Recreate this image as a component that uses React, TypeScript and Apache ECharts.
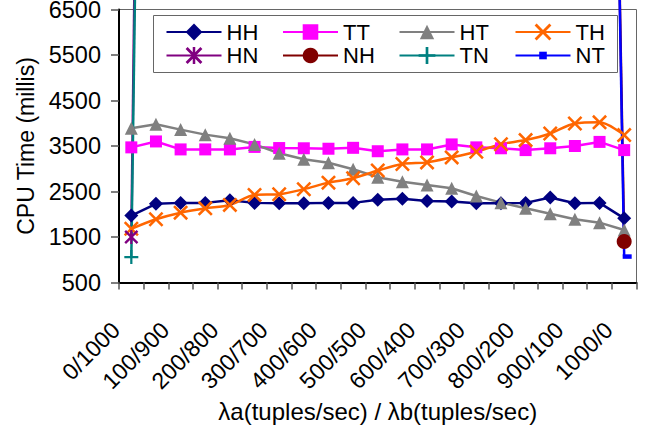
import React, { useEffect, useRef } from 'react';
import * as echarts from 'echarts';

const categories = [
  '0/1000', '50/950', '100/900', '150/850', '200/800', '250/750', '300/700',
  '350/650', '400/600', '450/550', '500/500', '550/450', '600/400', '650/350',
  '700/300', '750/250', '800/200', '850/150', '900/100', '950/50', '1000/0',
];

const HH = [1970, 2230, 2250, 2250, 2310, 2250, 2240, 2240, 2250, 2250, 2320, 2340, 2290, 2280, 2240, 2240, 2250, 2370, 2240, 2250, 1910];
const TT = [3470, 3600, 3425, 3425, 3425, 3480, 3455, 3450, 3440, 3460, 3385, 3425, 3425, 3535, 3470, 3450, 3410, 3450, 3500, 3590, 3410];
const HT = [3890, 3980, 3860, 3750, 3670, 3535, 3340, 3210, 3130, 2990, 2815, 2715, 2645, 2570, 2400, 2255, 2130, 2010, 1890, 1815, 1655];
const TH = [1680, 1890, 2035, 2130, 2205, 2425, 2440, 2550, 2695, 2790, 2960, 3105, 3140, 3250, 3375, 3540, 3630, 3775, 3995, 4020, 3740];
const HN = [1500, 45000];
const NH = [null, null, null, null, null, null, null, null, null, null, null, null, null, null, null, null, null, null, null, 31500, 1400];
const TN = [1060, 40000];
const NT = [null, null, null, null, null, null, null, null, null, null, null, null, null, null, null, null, null, null, null, 32000, 1070];

const Y_MIN = 500;
const Y_MAX = 6500;
const Y_STEP = 1000;

const FONT = '"Liberation Sans", Arial, sans-serif';

const X_SHAPE = 'M0,1.2L1.2,0L5,3.8L8.8,0L10,1.2L6.2,5L10,8.8L8.8,10L5,6.2L1.2,10L0,8.8L3.8,5Z';
const X_PATH = 'path://' + X_SHAPE;
const STAR_PATH = 'path://' + X_SHAPE + 'M4.25,0L5.75,0L5.75,10L4.25,10Z';
const PLUS_PATH = 'path://M4.2,0L5.8,0L5.8,4.2L10,4.2L10,5.8L5.8,5.8L5.8,10L4.2,10L4.2,5.8L0,5.8L0,4.2L4.2,4.2Z';
const DASH_PATH = 'path://M0,0L9,0L9,5L0,5Z';

const seriesData = [HH, TT, HT, TH, HN, NH, TN, NT];

const styles = [
  { name: 'HH', color: '#000080', symbol: 'diamond', size: 14, legendH: 21 },
  { name: 'TT', color: '#FF00FF', symbol: 'rect', size: 12, legendH: 19.5 },
  { name: 'HT', color: '#808080', symbol: 'triangle', size: 13, legendH: 18 },
  { name: 'TH', color: '#FF6600', symbol: X_PATH, size: 15, legendH: 21, smooth: 0.3 },
  { name: 'HN', color: '#800080', symbol: STAR_PATH, size: 14, legendH: 21 },
  { name: 'NH', color: '#800000', symbol: 'circle', size: 15, legendH: 19.5 },
  { name: 'TN', color: '#008080', symbol: PLUS_PATH, size: 14, legendH: 21 },
  { name: 'NT', color: '#0000FF', symbol: DASH_PATH, size: [9, 4.5], legendH: 9.5, offset: [3, 0] },
];

const legendCols = [165.5, 282, 398.5, 514.5];
const legendRows = [32, 55.5];

export default function App() {
  const ref = useRef<HTMLDivElement>(null);

  useEffect(() => {
    if (!ref.current) return;
    const chart = echarts.init(ref.current, null, { renderer: 'svg' });

    const option: any = {
      animation: false,
      backgroundColor: '#ffffff',
      textStyle: { fontFamily: FONT },
      grid: {
        left: 119,
        top: 9.5,
        width: 517.5,
        height: 273,
        show: true,
        borderColor: '#666666',
        borderWidth: 1,
        backgroundColor: 'transparent',
        containLabel: false,
        outerBoundsMode: 'none',
      },
      xAxis: {
        type: 'category',
        data: categories,
        boundaryGap: true,
        name: 'λa(tuples/sec) / λb(tuples/sec)',
        nameLocation: 'middle',
        nameGap: 111,
        nameTextStyle: { fontSize: 24, color: '#000', fontFamily: FONT },
        axisLine: { show: true, lineStyle: { color: '#000', width: 2 } },
        axisTick: { show: true, interval: 0, length: 7, lineStyle: { color: '#555', width: 1.5 } },
        axisLabel: {
          interval: 1,
          rotate: 45,
          fontSize: 23,
          color: '#000',
          fontFamily: FONT,
          margin: 28,
          formatter: (v: string) => `${v}{s| }`,
          rich: { s: { width: 22, fontSize: 23 } },
        },
        splitLine: { show: false },
      },
      yAxis: {
        type: 'value',
        min: Y_MIN,
        max: Y_MAX,
        interval: Y_STEP,
        name: 'CPU Time (millis)',
        nameLocation: 'middle',
        nameGap: 82,
        nameTextStyle: { fontSize: 23, color: '#000', fontFamily: FONT },
        axisLine: { show: true, lineStyle: { color: '#000', width: 2 } },
        axisTick: { show: true, length: 8, lineStyle: { color: '#555', width: 1.5 } },
        axisLabel: {
          fontSize: 23.5,
          lineHeight: 19,
          color: '#000',
          fontFamily: FONT,
          margin: 18,
          formatter: (v: number) => String(v),
        },
        splitLine: { show: false },
      },
      legend: styles.map((s, i) => ({
        data: [s.name],
        left: legendCols[i % 4],
        top: legendRows[Math.floor(i / 4)] - 11,
        padding: 0,
        itemWidth: 55,
        itemHeight: s.legendH,
        selectedMode: false,
        textStyle: { fontSize: 22, color: '#000', fontFamily: FONT },
      })),
      graphic: [
        {
          type: 'rect',
          z: 3,
          shape: { x: 153.5, y: 15.5, width: 464, height: 57 },
          style: { fill: '#ffffff', stroke: '#666666', lineWidth: 1 },
        },
      ],
      series: styles.map((s, i) => ({
        type: 'line',
        name: s.name,
        data: seriesData[i],
        symbol: s.symbol,
        symbolSize: s.size,
        symbolOffset: s.offset || [0, 0],
        showAllSymbol: true,
        clip: false,
        smooth: s.smooth || false,
        lineStyle: { color: s.color, width: 2.5 },
        itemStyle: { color: s.color },
        emphasis: { disabled: true },
      })),
    };

    chart.setOption(option);
    return () => {
      chart.dispose();
    };
  }, []);

  return (
    <div
      ref={ref}
      style={{ position: 'fixed', left: 0, top: 0, width: 645, height: 425, background: '#fff' }}
    />
  );
}
